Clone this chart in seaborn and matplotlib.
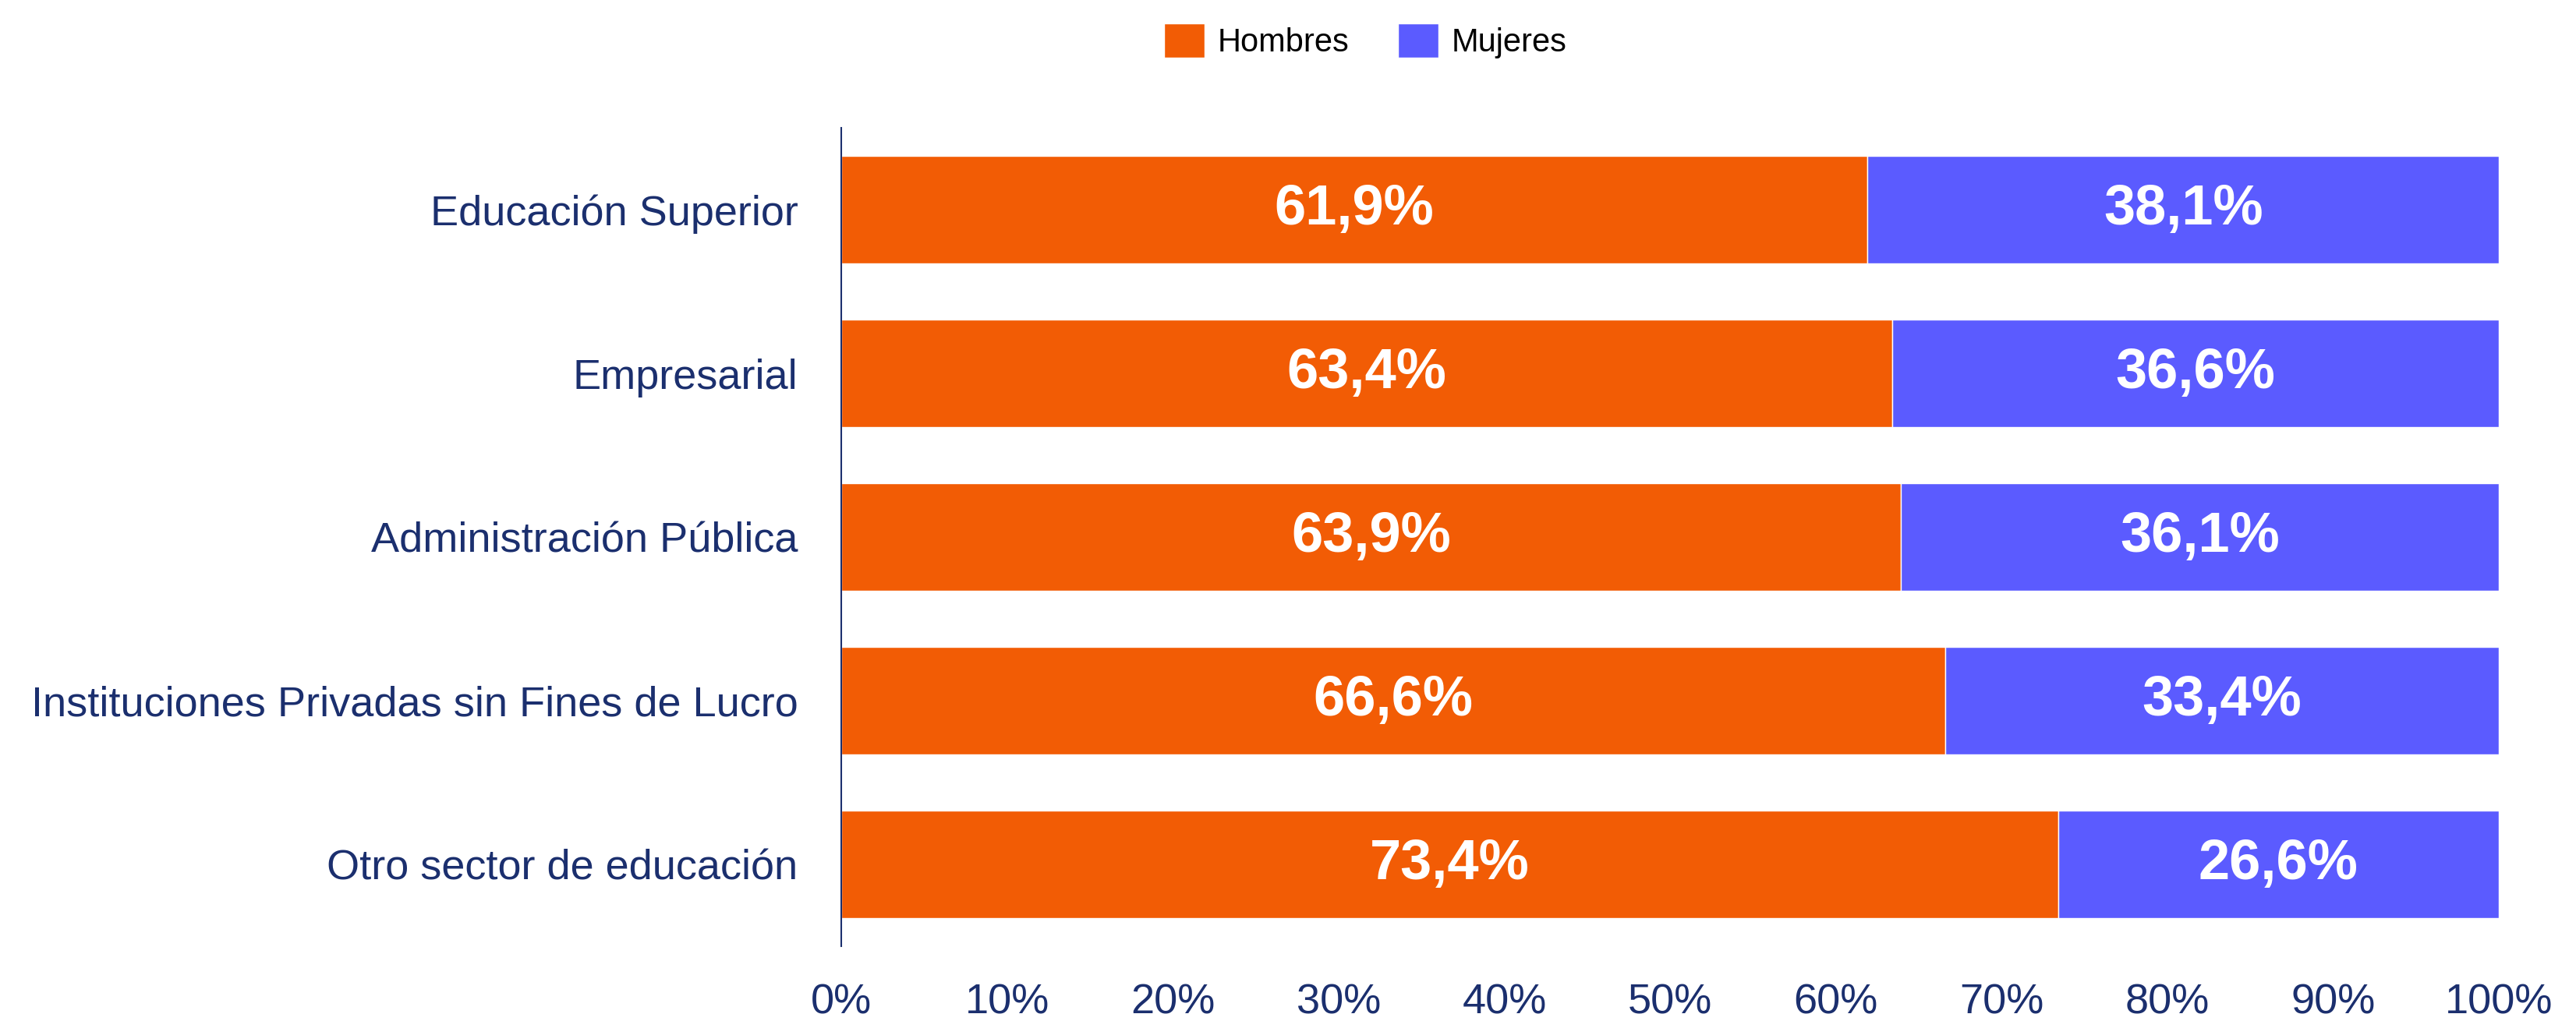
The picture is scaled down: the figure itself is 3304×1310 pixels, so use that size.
import numpy as np
import pandas as pd
import seaborn as sns
import matplotlib.pyplot as plt

# data
sectores = ["Educación Superior", "Empresarial", "Administración Pública",
            "Instituciones Privadas sin Fines de Lucro", "Otro sector de educación"]
hombres = [61.9, 63.4, 63.9, 66.6, 73.4]
mujeres = [38.1, 36.6, 36.1, 33.4, 26.6]
x_ticks = [0, 10, 20, 30, 40, 50, 60, 70, 80, 90, 100]

naranja = "#F25C05"
azul = "#5B5BFF"
navy = "#1B2F6E"

df = pd.DataFrame({"sector": sectores, "Hombres": hombres, "Mujeres": mujeres})

sns.set_style("white")
plt.rcParams['font.family'] = ['Liberation Sans', 'DejaVu Sans']

fig = plt.figure(figsize=(33.04, 13.10), dpi=100)
ax = fig.add_axes([0.3266, 0.0733, 0.6435, 0.8015])

sns.barplot(data=df, y="sector", x="Hombres", color=naranja, width=0.66,
            orient="h", ax=ax, saturation=1, label="Hombres")
sns.barplot(data=df, y="sector", x="Mujeres", color=azul, width=0.66,
            orient="h", ax=ax, saturation=1, left=df["Hombres"].values, label="Mujeres")
if ax.get_legend() is not None:
    ax.get_legend().remove()

# value labels, centred in each segment
for cont in ax.containers:
    ax.bar_label(cont, labels=[f"{v:.1f}%".replace(".", ",") for v in cont.datavalues],
                 label_type="center", color="white", fontsize=52, fontweight="bold")

ax.set_xlim(0, 100)
ax.set_ylim(4.5, -0.5)
ax.set_xticks(x_ticks)
ax.set_xticklabels([f"{t}%" for t in x_ticks])
ax.set_xlabel("")
ax.set_ylabel("")
ax.tick_params(axis="x", length=0, pad=34, labelsize=39, labelcolor=navy)
ax.tick_params(axis="y", length=0, pad=40, labelsize=39, labelcolor=navy)

for s in ["top", "right", "bottom"]:
    ax.spines[s].set_visible(False)
ax.spines["left"].set_color(navy)
ax.spines["left"].set_linewidth(1.5)

handles, labels = ax.get_legend_handles_labels()
fig.legend(handles[:2], labels[:2], loc="center", bbox_to_anchor=(0.530, 0.96), ncol=2,
           frameon=False, fontsize=30, labelcolor="black", handlelength=1.25,
           handleheight=1.25, handletextpad=0.4, columnspacing=1.5)

fig.savefig("out.png", dpi=100)
